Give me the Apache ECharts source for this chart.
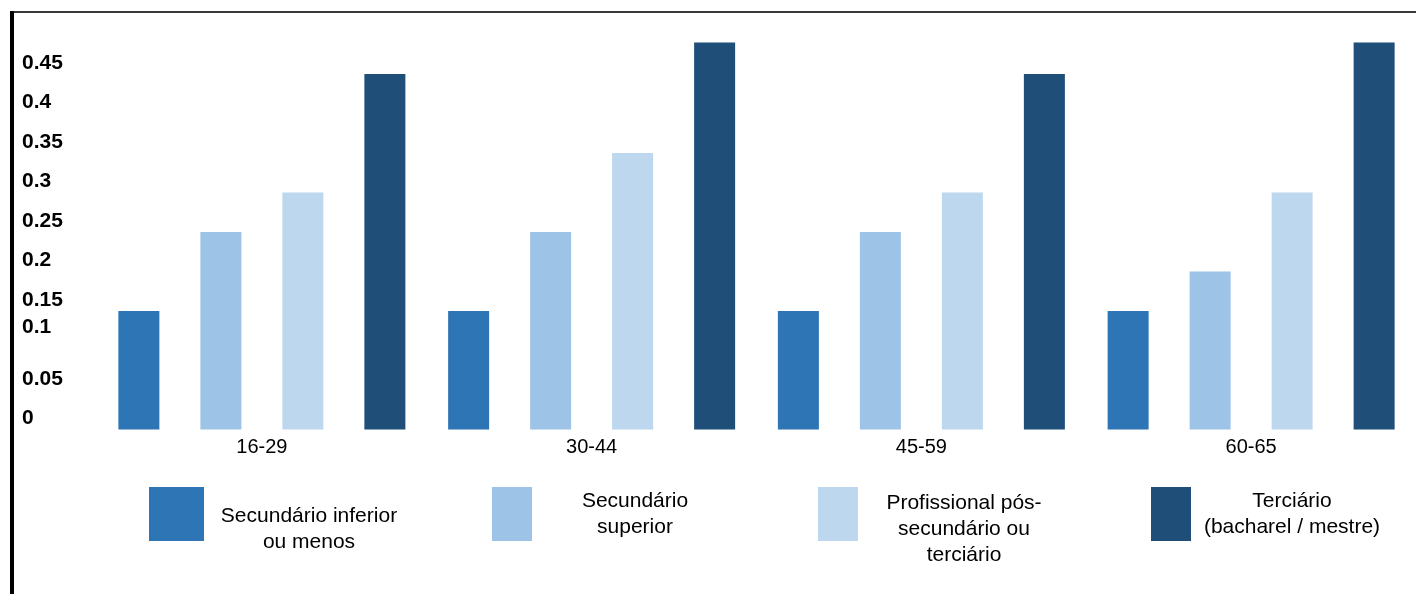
<!DOCTYPE html>
<html>
<head>
<meta charset="utf-8">
<script src="https://cdn.jsdelivr.net/npm/echarts@6/dist/echarts.min.js"></script>
<style>
  html, body { margin: 0; padding: 0; background: #fff; }
  #chart { width: 1416px; height: 594px; }
</style>
</head>
<body>
<div id="chart"></div>
<script>
// Age groups on the x axis
const ageGroups = ['16-29', '30-44', '45-59', '60-65'];

// Education levels (legend names, one line per entry)
const levelLines = [
  ['Secundário inferior', 'ou menos'],
  ['Secundário', 'superior'],
  ['Profissional pós-', 'secundário ou', 'terciário'],
  ['Terciário', '(bacharel / mestre)']
];
const levelNames = levelLines.map(l => l.join(' '));

// Values per education level, in age-group order
const secInferior = [0.15, 0.15, 0.15, 0.15];
const secSuperior = [0.25, 0.25, 0.25, 0.20];
const profissional = [0.30, 0.35, 0.30, 0.30];
const terciario = [0.45, 0.49, 0.45, 0.49];

// Y tick labels
const yTickLabels = ['0', '0.05', '0.1', '0.15', '0.2', '0.25', '0.3', '0.35', '0.4', '0.45'];

const levelColors = ['#2E75B6', '#9DC3E6', '#BDD7EE', '#1F4E79'];
const seriesValues = [secInferior, secSuperior, profissional, terciario];

const FONT = '"Liberation Sans", Arial, sans-serif';
const LINE_H = 26;
const SPACER_H = 30;
const BOX_H = 54;

// Legend layout: box left, legend top, box width, text block width, whether text sits lower
const legendSlots = [
  { left: 149, top: 487, w: 55, tw: 200, lower: true },
  { left: 492, top: 487, w: 40, tw: 196, lower: false },
  { left: 818, top: 474, w: 40, tw: 202, lower: true },
  { left: 1151, top: 487, w: 40, tw: 192, lower: false }
];

const legends = legendSlots.map((s, i) => {
  const lines = levelLines[i].map(line => '{t|' + line + '}');
  // an invisible spacer line pushes the text block down next to the box
  if (s.lower) lines.unshift('{g| }');
  return {
    data: [levelNames[i]],
    left: s.left,
    top: s.top,
    icon: 'rect',
    itemWidth: s.w,
    itemHeight: BOX_H,
    selectedMode: false,
    padding: 0,
    formatter: () => lines.join('\n'),
    textStyle: {
      rich: {
        t: { width: s.tw, align: 'center', fontSize: 21, lineHeight: LINE_H, fontFamily: FONT, color: '#000' },
        g: { fontSize: 2, lineHeight: SPACER_H, color: 'rgba(0,0,0,0)' }
      }
    }
  };
});

const chart = echarts.init(document.getElementById('chart'), null, { renderer: 'canvas' });

chart.setOption({
  animation: false,
  backgroundColor: '#fff',
  grid: { left: 97, top: 34.5, width: 1320, height: 395, containLabel: false },
  legend: legends,
  xAxis: {
    type: 'category',
    data: ageGroups,
    axisLine: { show: false },
    axisTick: { show: false },
    splitLine: { show: false },
    axisLabel: { margin: 8, fontSize: 20, fontFamily: FONT, color: '#000' }
  },
  yAxis: {
    type: 'value',
    min: 0,
    max: 0.5,
    interval: 0.05,
    axisLine: { show: false },
    axisTick: { show: false },
    splitLine: { show: false },
    axisLabel: {
      align: 'left',
      margin: 75,
      formatter: v => {
        const i = Math.round(v / 0.05);
        if (i >= yTickLabels.length) return '';
        return (i === 2 ? '{hi|' : '{n|') + yTickLabels[i] + '}';
      },
      rich: {
        n: { fontSize: 21, fontWeight: 'bold', fontFamily: FONT, color: '#000', padding: [0, 0, 22, 0] },
        hi: { fontSize: 21, fontWeight: 'bold', fontFamily: FONT, color: '#000', padding: [0, 0, 47, 0] }
      }
    }
  },
  series: seriesValues.map((vals, i) => ({
    name: levelNames[i],
    type: 'bar',
    data: vals,
    barWidth: 41,
    barGap: '100%',
    itemStyle: { color: levelColors[i] }
  })),
  graphic: [
    { type: 'line', shape: { x1: 10, y1: 12, x2: 1416, y2: 12 }, style: { stroke: '#3a3a3a', lineWidth: 2 } },
    { type: 'line', shape: { x1: 12, y1: 11, x2: 12, y2: 594 }, style: { stroke: '#000', lineWidth: 4 } }
  ]
});
</script>
</body>
</html>
